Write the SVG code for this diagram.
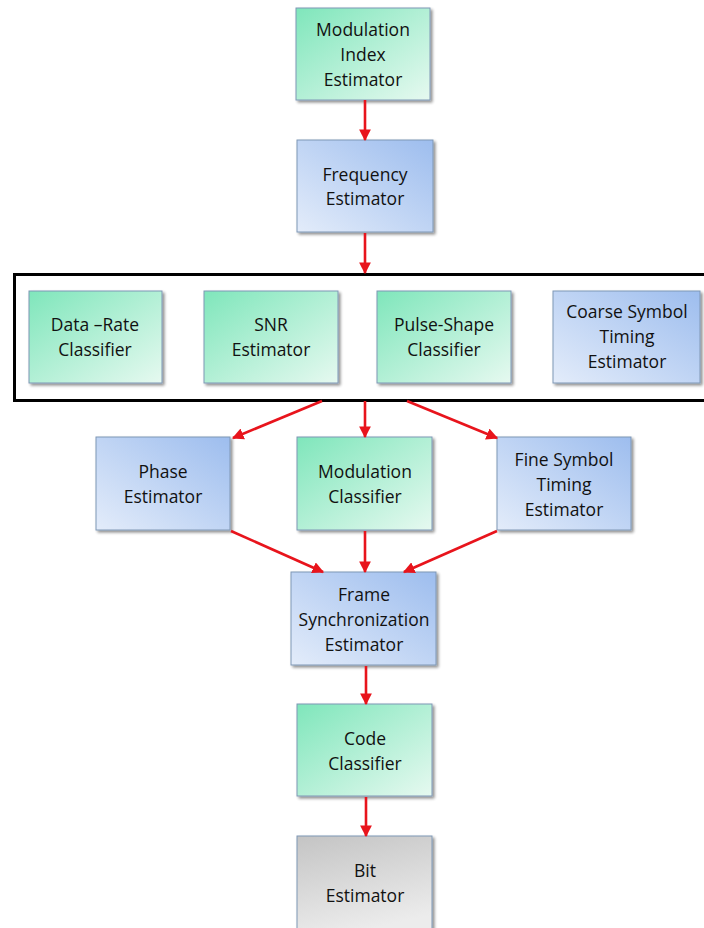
<svg xmlns="http://www.w3.org/2000/svg" width="704" height="928" viewBox="0 0 704 928">
<defs>
<linearGradient id="gGreen" x1="0" y1="0" x2="1" y2="1">
<stop offset="0" stop-color="#7fe6bb"/>
<stop offset="1" stop-color="#e6f9f0"/>
</linearGradient>
<linearGradient id="gBlue" x1="1" y1="0" x2="0" y2="1">
<stop offset="0" stop-color="#9dbdee"/>
<stop offset="1" stop-color="#e3ecfa"/>
</linearGradient>
<linearGradient id="gGray" x1="0" y1="0" x2="0.3" y2="1">
<stop offset="0" stop-color="#c4c4c4"/>
<stop offset="1" stop-color="#ececec"/>
</linearGradient>
<filter id="sh" x="-10%" y="-10%" width="130%" height="130%">
<feGaussianBlur in="SourceAlpha" stdDeviation="1.5"/>
<feOffset dx="2" dy="2" result="b"/>
<feComponentTransfer><feFuncA type="linear" slope="0.45"/></feComponentTransfer>
<feMerge><feMergeNode/><feMergeNode in="SourceGraphic"/></feMerge>
</filter>
<marker id="ah" viewBox="0 0 10 10" refX="9" refY="5" markerWidth="4.5" markerHeight="4.5" orient="auto" markerUnits="strokeWidth">
<path d="M0,0 L10,5 L0,10 Z" fill="#e8141c"/>
</marker>
</defs>
<style>
.box{stroke:#7f97b5;stroke-width:1;filter:url(#sh)}
.green{fill:url(#gGreen)}
.blue{fill:url(#gBlue)}
.gray{fill:url(#gGray)}
text{font-family:"Open Sans","Liberation Sans",sans-serif;font-size:17.5px;fill:#111111;text-anchor:middle}
.c line{stroke:#e8141c;stroke-width:2.6;marker-end:url(#ah)}
</style>
<rect width="704" height="928" fill="#ffffff"/>
<g id="group-frame"><rect x="14.5" y="274.5" width="700" height="126" fill="none" stroke="#000" stroke-width="3"/></g>
<g id="n-modidx"><rect class="box green" x="296" y="8" width="134" height="92"/><text x="363" y="36">Modulation</text><text x="363" y="61">Index</text><text x="363" y="86">Estimator</text></g>
<g id="n-freq"><rect class="box blue" x="297" y="140" width="136" height="92"/><text x="365" y="181">Frequency</text><text x="365" y="205">Estimator</text></g>
<g id="n-datarate"><rect class="box green" x="29" y="291" width="133" height="92"/><text x="95" y="331">Data –Rate</text><text x="95" y="356">Classifier</text></g>
<g id="n-snr"><rect class="box green" x="204" y="291" width="134" height="92"/><text x="271" y="331">SNR</text><text x="271" y="356">Estimator</text></g>
<g id="n-pulse"><rect class="box green" x="377" y="291" width="134" height="92"/><text x="444" y="331">Pulse-Shape</text><text x="444" y="356">Classifier</text></g>
<g id="n-coarse"><rect class="box blue" x="553" y="291" width="147" height="92"/><text x="627" y="318">Coarse Symbol</text><text x="627" y="343">Timing</text><text x="627" y="368">Estimator</text></g>
<g id="n-phase"><rect class="box blue" x="96" y="437" width="134" height="93"/><text x="163" y="478">Phase</text><text x="163" y="503">Estimator</text></g>
<g id="n-modcls"><rect class="box green" x="297" y="437" width="135" height="93"/><text x="365" y="478">Modulation</text><text x="365" y="503">Classifier</text></g>
<g id="n-fine"><rect class="box blue" x="497" y="437" width="134" height="93"/><text x="564" y="466">Fine Symbol</text><text x="564" y="491">Timing</text><text x="564" y="516">Estimator</text></g>
<g id="n-frame"><rect class="box blue" x="291" y="572" width="145" height="93"/><text x="364" y="601">Frame</text><text x="364" y="626">Synchronization</text><text x="364" y="651">Estimator</text></g>
<g id="n-code"><rect class="box green" x="297" y="704" width="135" height="92"/><text x="365" y="745">Code</text><text x="365" y="770">Classifier</text></g>
<g id="n-bit"><rect class="box gray" x="297" y="836" width="135" height="100"/><text x="365" y="877">Bit</text><text x="365" y="902">Estimator</text></g>
<g id="connectors" class="c">
<line x1="365" y1="100" x2="365" y2="140"/>
<line x1="365" y1="233" x2="365" y2="273"/>
<line x1="322" y1="401" x2="233" y2="438"/>
<line x1="365" y1="401" x2="365" y2="437"/>
<line x1="407" y1="401" x2="497" y2="438"/>
<line x1="231" y1="531" x2="323" y2="572"/>
<line x1="365" y1="531" x2="365" y2="572"/>
<line x1="497" y1="531" x2="404" y2="572"/>
<line x1="366" y1="666" x2="366" y2="704"/>
<line x1="366" y1="797" x2="366" y2="836"/>
</g>
</svg>
